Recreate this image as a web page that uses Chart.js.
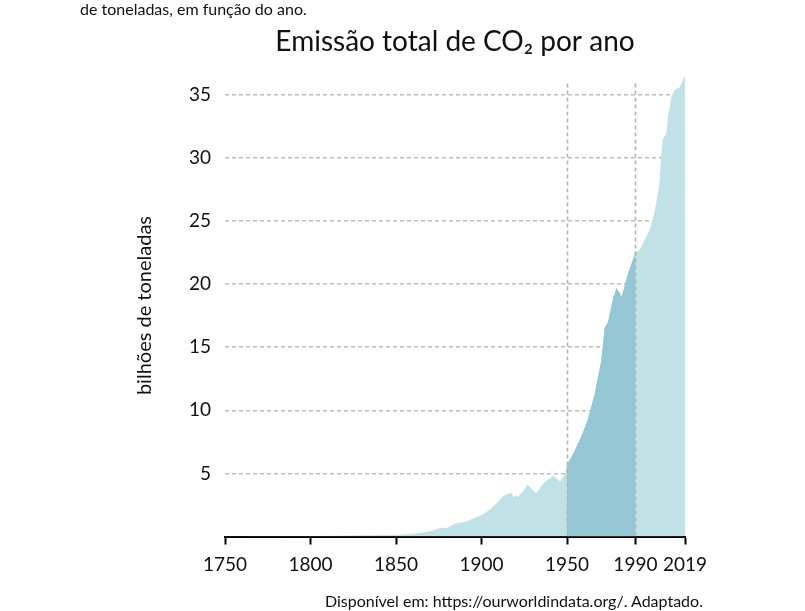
<!DOCTYPE html>
<html>
<head>
<meta charset="utf-8">
<script src="https://cdn.jsdelivr.net/npm/chart.js@4"></script>
<style>
  body { margin: 0; width: 805px; height: 611px; overflow: hidden; background: #fff; position: relative; font-family: Lato, sans-serif; color: #111; }
  #wrap { position: absolute; left: 0; top: 0; width: 805px; height: 611px; }
  .edge { position: absolute; font-size: 16px; line-height: 18px; white-space: nowrap; color: #111; }
</style>
</head>
<body>
<div id="wrap"><canvas id="co2" width="805" height="611"></canvas></div>
<div class="edge" style="left:80px; top:0px;">de toneladas, em função do ano.</div>
<div class="edge" style="left:325px; top:592px;">Disponível em: https://ourworldindata.org/. Adaptado.</div>
<script>
// anos e emissões (bilhões de toneladas)
const years = [
  1750, 1800, 1830, 1850, 1860, 1870, 1876, 1880, 1884, 1891, 1897, 1900,
  1905, 1909, 1913, 1916, 1917, 1919, 1920, 1921, 1924, 1927, 1932, 1936,
  1942, 1946, 1949, 1950, 1953, 1958, 1962, 1966, 1970, 1972, 1974, 1977,
  1979, 1982, 1986, 1989, 1990, 1992, 1995, 1998, 2000, 2002, 2004, 2005,
  2006, 2008, 2009, 2011, 2013, 2016, 2017, 2019
];
const emissions = [
  0.01, 0.03, 0.07, 0.12, 0.2, 0.41, 0.7, 0.68, 1.0, 1.18, 1.52, 1.7,
  2.13, 2.66, 3.25, 3.38, 3.5, 3.1, 3.3, 3.15, 3.5, 4.1, 3.43, 4.17,
  4.83, 4.36, 5.0, 5.7, 6.4, 7.8, 9.2, 11.2, 13.9, 16.5, 17.0, 18.9,
  19.7, 19.0, 21.0, 22.1, 22.6, 22.6, 23.4, 24.2, 25.0, 26.3, 27.9, 30.0,
  31.5, 31.9, 33.2, 34.8, 35.4, 35.6, 36.0, 36.5
];
const xTicks = [1750, 1800, 1850, 1900, 1950, 1990, 2019];
const yTicks = [5, 10, 15, 20, 25, 30, 35];
const highlight = [1950, 1990];

const allPoints = years.map((y, i) => ({ x: y, y: emissions[i] }));
const darkPoints = allPoints.filter((p) => p.x >= highlight[0] && p.x <= highlight[1]);

const font = "Lato";
const gridGrey = "#bdbdbd";

// linhas verticais tracejadas em 1950 e 1990, por cima da área
const markerLines = {
  id: "markerLines",
  afterDatasetsDraw(chart) {
    const { ctx, scales } = chart;
    const top = scales.y.getPixelForValue(35.9);
    const bottom = scales.y.getPixelForValue(0);
    ctx.save();
    ctx.strokeStyle = "#b3b3b3";
    ctx.lineWidth = 1.6;
    ctx.setLineDash([4, 3]);
    highlight.forEach((yr) => {
      const x = Math.round(scales.x.getPixelForValue(yr)) + 0.5;
      ctx.beginPath();
      ctx.moveTo(x, top);
      ctx.lineTo(x, bottom);
      ctx.stroke();
    });
    ctx.restore();
  },
};

new Chart(document.getElementById("co2"), {
  type: "line",
  data: {
    datasets: [
      {
        label: "1950-1990",
        data: darkPoints,
        fill: "origin",
        backgroundColor: "#95c6d4",
        borderWidth: 0,
        pointRadius: 0,
        order: 0,
      },
      {
        label: "Emissão total",
        data: allPoints,
        fill: "origin",
        backgroundColor: "#c0e2e6",
        borderWidth: 0,
        pointRadius: 0,
        order: 1,
      },
    ],
  },
  options: {
    responsive: false,
    animation: false,
    layout: { padding: { left: 133, right: 120, top: 0, bottom: 0 } },
    plugins: {
      legend: { display: false },
      tooltip: { enabled: false },
      title: {
        display: true,
        fullSize: false,
        text: "Emissão total de CO₂ por ano",
        color: "#111",
        font: { family: font, size: 28, weight: "normal" },
        padding: { top: 25, bottom: 16 },
      },
    },
    scales: {
      x: {
        type: "linear",
        min: 1750,
        max: 2019,
        z: 1,
        afterBuildTicks: (scale) => {
          scale.ticks = xTicks.map((v) => ({ value: v }));
        },
        afterFit: (scale) => {
          scale.height = 74.5;
        },
        ticks: {
          autoSkip: false,
          maxRotation: 0,
          padding: 9,
          color: "#111",
          font: { family: font, size: 19 },
          callback: (v) => String(v),
        },
        grid: {
          drawOnChartArea: false,
          drawTicks: true,
          tickLength: 8,
          tickColor: "#000",
          tickWidth: 2,
        },
        border: { display: true, color: "#000", width: 2 },
      },
      y: {
        min: 0,
        max: 36.6,
        afterBuildTicks: (scale) => {
          scale.ticks = [0].concat(yTicks).map((v) => ({ value: v }));
        },
        afterFit: (scale) => {
          scale.width = 92;
        },
        ticks: {
          padding: 14,
          color: "#111",
          font: { family: font, size: 19 },
          callback: (v) => (v === 0 ? "" : String(v)),
        },
        grid: {
          drawTicks: false,
          lineWidth: 1.5,
          color: (c) => (c.tick && c.tick.value === 0 ? "rgba(0,0,0,0)" : gridGrey),
        },
        border: { display: false, dash: [4, 3] },
        title: {
          display: true,
          text: "bilhões de toneladas",
          color: "#111",
          font: { family: font, size: 20 },
          padding: 0,
        },
      },
    },
  },
  plugins: [markerLines],
});
</script>
</body>
</html>
